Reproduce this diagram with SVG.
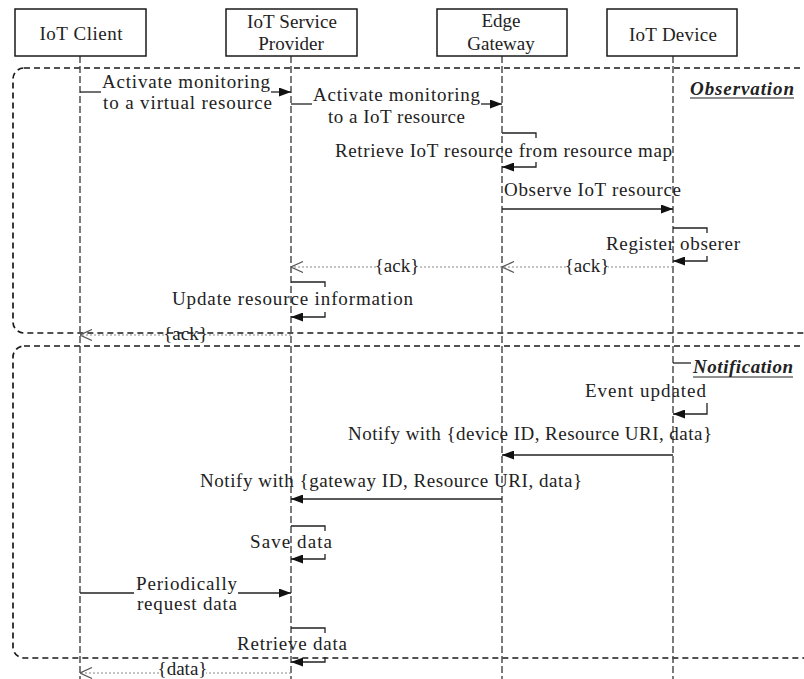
<svg xmlns="http://www.w3.org/2000/svg" width="804" height="679" viewBox="0 0 804 679">
  <defs>
    <style>
      .box { fill: #fff; stroke: #1a1a1a; stroke-width: 1.5; }
      .life { stroke: #444; stroke-width: 1.4; stroke-dasharray: 7 3; fill: none; }
      .frame { fill: none; stroke: #1a1a1a; stroke-width: 1.7; stroke-dasharray: 6 4; }
      .msg { stroke: #222; stroke-width: 1.3; fill: none; }
      .reply { stroke: #8a8a8a; stroke-width: 1.1; stroke-dasharray: 2 2; fill: none; }
      text { font-family: "Liberation Serif", "Times New Roman", serif; font-size: 19px; fill: #222; }
      .c { text-anchor: middle; }
      .label { font-weight: bold; font-style: italic; }
      .uline { stroke: #222; stroke-width: 1.2; }
    </style>
    <marker id="solid" viewBox="0 0 12 9" refX="12" refY="4.5" markerWidth="12" markerHeight="9" markerUnits="userSpaceOnUse" orient="auto">
      <path d="M0,0 L12,4.5 L0,9 Z" fill="#111"/>
    </marker>
    <marker id="open" viewBox="0 0 13 12" refX="12.5" refY="6" markerWidth="13" markerHeight="12" markerUnits="userSpaceOnUse" orient="auto">
      <path d="M0.5,0.5 L12.5,6 L0.5,11.5" fill="none" stroke="#555" stroke-width="1.2"/>
    </marker>
  </defs>

  <rect width="804" height="679" fill="#fff"/>

  <!-- combined fragments -->
  <g id="fragments">
    <rect class="frame" x="13" y="68" width="803" height="265" rx="11"/>
    <rect class="frame" x="13" y="346" width="802" height="312" rx="11"/>
  </g>

  <!-- lifelines -->
  <g id="lifelines">
    <line class="life" x1="80" y1="56" x2="80" y2="679"/>
    <line class="life" x1="291" y1="56" x2="291" y2="679"/>
    <line class="life" x1="502" y1="56" x2="502" y2="679"/>
    <line class="life" x1="673" y1="56" x2="673" y2="679"/>
  </g>

  <!-- participants -->
  <g id="iot-client">
    <rect class="box" x="15" y="9" width="131" height="47"/>
    <text class="c" x="81" y="40" textLength="83">IoT Client</text>
  </g>
  <g id="iot-service-provider">
    <rect class="box" x="226" y="9" width="131" height="47"/>
    <text class="c" x="292" y="28" textLength="90">IoT Service</text>
    <text class="c" x="291" y="50">Provider</text>
  </g>
  <g id="edge-gateway">
    <rect class="box" x="437" y="9" width="130" height="47"/>
    <text class="c" x="501" y="27">Edge</text>
    <text class="c" x="501" y="50">Gateway</text>
  </g>
  <g id="iot-device">
    <rect class="box" x="607" y="9" width="130" height="47"/>
    <text class="c" x="673" y="41" textLength="88">IoT Device</text>
  </g>

  <!-- fragment labels -->
  <g id="label-observation">
    <text class="label" x="690" y="95" textLength="104">Observation</text>
    <line class="uline" x1="690" y1="98" x2="794" y2="98"/>
  </g>
  <g id="label-notification">
    <text class="label" x="693" y="373" textLength="100">Notification</text>
    <line class="uline" x1="693" y1="377" x2="793" y2="377"/>
  </g>

  <!-- messages -->
  <g id="connectors">
    <!-- activate monitoring: client -> provider -->
    <path class="msg" d="M80,92 H101"/>
    <path class="msg" d="M271,92 H291" marker-end="url(#solid)"/>
    <text x="102" y="88" textLength="168">Activate monitoring</text>
    <text x="103" y="109" textLength="169">to a virtual resource</text>

    <!-- activate monitoring: provider -> gateway -->
    <path class="msg" d="M291,104 H312"/>
    <path class="msg" d="M481,104 H502" marker-end="url(#solid)"/>
    <text x="313" y="101" textLength="167">Activate monitoring</text>
    <text x="328" y="123" textLength="137">to a IoT resource</text>

    <!-- retrieve from resource map (self) -->
    <path class="msg" d="M502,133 H536 V138"/>
    <path class="msg" d="M536,162 V167 H502" marker-end="url(#solid)"/>
    <text x="335" y="157" textLength="337">Retrieve IoT resource from resource map</text>

    <!-- observe: gateway -> device -->
    <path class="msg" d="M502,209 H673" marker-end="url(#solid)"/>
    <text x="504" y="196" textLength="177">Observe IoT resource</text>

    <!-- register observer (self) -->
    <path class="msg" d="M673,228 H707 V233"/>
    <path class="msg" d="M707,256 V261 H673" marker-end="url(#solid)"/>
    <text x="606" y="250" textLength="134">Register obserer</text>

    <!-- acks back to provider -->
    <path class="reply" d="M673,267 H608"/>
    <path class="reply" d="M566,267 H502" marker-end="url(#open)"/>
    <text class="c" x="587" y="272">{ack}</text>
    <path class="reply" d="M502,267 H419"/>
    <path class="reply" d="M376,267 H291" marker-end="url(#open)"/>
    <text class="c" x="397" y="272">{ack}</text>

    <!-- update resource information (self) -->
    <path class="msg" d="M291,282 H325 V287"/>
    <path class="msg" d="M325,312 V317 H291" marker-end="url(#solid)"/>
    <text x="172" y="305" textLength="241">Update resource information</text>

    <!-- ack to client -->
    <path class="reply" d="M291,335 H207"/>
    <path class="reply" d="M164,335 H80" marker-end="url(#open)"/>
    <text class="c" x="185.5" y="340">{ack}</text>

    <!-- event updated (self) -->
    <path class="msg" d="M673,363 H691"/>
    <path class="msg" d="M707,403 V414 H673" marker-end="url(#solid)"/>
    <text x="585" y="397" textLength="121">Event updated</text>

    <!-- notify: device -> gateway -->
    <path class="msg" d="M673,455 H502" marker-end="url(#solid)"/>
    <text x="348" y="440" textLength="364">Notify with {device ID, Resource URI, data}</text>

    <!-- notify: gateway -> provider -->
    <path class="msg" d="M502,499 H291" marker-end="url(#solid)"/>
    <text x="200" y="487" textLength="382">Notify with {gateway ID, Resource URI, data}</text>

    <!-- save data (self) -->
    <path class="msg" d="M291,526 H325 V531"/>
    <path class="msg" d="M325,554 V559 H291" marker-end="url(#solid)"/>
    <text class="c" x="291" y="548" textLength="82">Save data</text>

    <!-- periodic request: client -> provider -->
    <path class="msg" d="M80,593 H134"/>
    <path class="msg" d="M238,593 H291" marker-end="url(#solid)"/>
    <text class="c" x="186.5" y="590" textLength="101">Periodically</text>
    <text class="c" x="187" y="610" textLength="100">request data</text>

    <!-- retrieve data (self) -->
    <path class="msg" d="M291,628 H325 V633"/>
    <path class="msg" d="M325,657 V662 H291" marker-end="url(#solid)"/>
    <text class="c" x="292" y="650" textLength="110">Retrieve data</text>

    <!-- data to client -->
    <path class="reply" d="M291,673 H206"/>
    <path class="reply" d="M159,673 H80" marker-end="url(#open)"/>
    <text class="c" x="182.5" y="675">{data}</text>
  </g>
</svg>
